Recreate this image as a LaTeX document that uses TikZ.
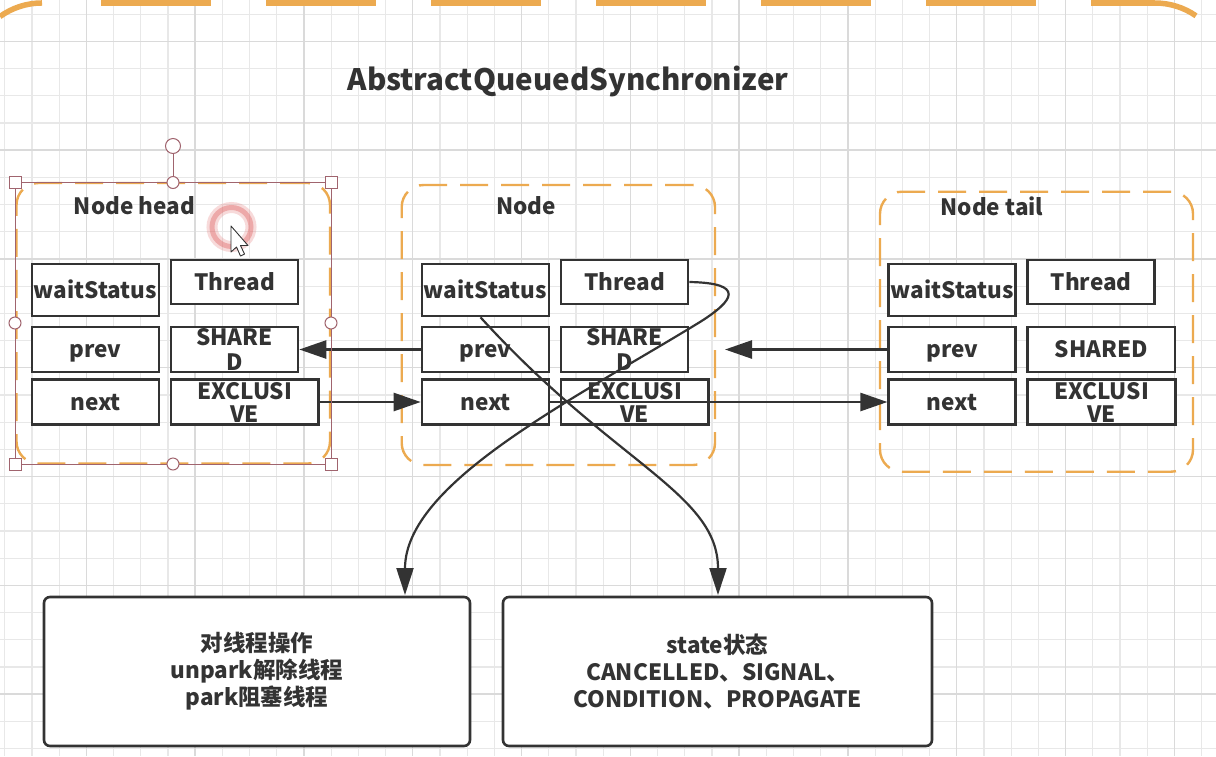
\documentclass[tikz,border=0pt]{standalone}
\usepackage{fontspec}
\setmainfont{Noto Sans CJK SC}
\usetikzlibrary{arrows.meta}
\definecolor{dk}{RGB}{51,51,51}
\definecolor{org}{RGB}{236,170,80}
\definecolor{gmin}{RGB}{232,232,232}
\definecolor{gmaj}{RGB}{218,218,218}
\definecolor{selc}{RGB}{160,100,110}
\definecolor{ringc}{RGB}{225,110,110}
\newcommand\fldfont{\fontsize{22.5}{24}\selectfont\bfseries}
\tikzset{
  fld/.style={draw=dk, line width=2.6pt, fill=white, inner sep=0pt, text=dk, font=\fldfont, align=center},
  one/.style={text height=20pt, text depth=4pt},
  cont/.style={draw=org, line width=2.4pt, dash pattern=on 28pt off 13pt, rounded corners=22pt, inner sep=0pt},
  lbl/.style={text=dk, font=\fldfont, inner sep=0pt},
  conn/.style={draw=dk, line width=2.6pt, -{Triangle[length=27pt,width=18pt]}},
  curv/.style={draw=dk, line width=2.2pt, -{Triangle[length=27pt,width=17pt]}},
  bigbox/.style={draw=dk, line width=2.6pt, fill=white, rounded corners=6pt, text=dk, align=center, font=\fontsize{22.5}{27}\selectfont\bfseries, inner sep=0pt},
  hnd/.style={draw=selc, line width=1pt, fill=white},
}
\newcommand\aqsgroup[3]{%
  \node[fld, one, minimum width=127pt, minimum height=52pt] (#2ws) at (95.5+#1,290) {waitStatus};
  \node[fld, one, minimum width=127pt, minimum height=44pt] (#2th) at (234.5+#1,282) {Thread};
  \node[fld, one, minimum width=127pt, minimum height=45pt] (#2pv) at (95.5+#1,349.5) {prev};
  \node[fld, one, minimum width=127pt, minimum height=45pt] (#2nx) at (95.5+#1,402) {next};
  #3
  \node[fld, minimum width=147.5pt, minimum height=45pt, font=\fontsize{22.5}{23}\selectfont\bfseries] (#2ex) at (244.75+#1,402) {EXCLUSI\\VE};
}
\begin{document}
\begin{tikzpicture}[x=1pt,y=-1pt]
\useasboundingbox (0,0) rectangle (1216,756);
\fill[white] (0,0) rectangle (1216,756);
% grid
\foreach \i in {0,...,44} { \draw[gmin, line width=1.2pt] (4.7+27.2*\i,0) -- (4.7+27.2*\i,756); }
\foreach \j in {0,...,27} { \draw[gmin, line width=1.2pt] (0,14.1+27.2*\j) -- (1216,14.1+27.2*\j); }
\foreach \i in {0,...,10} { \draw[gmaj, line width=1.4pt] (86.3+108.8*\i,0) -- (86.3+108.8*\i,756); }
\foreach \j in {0,...,6} { \draw[gmaj, line width=1.4pt] (0,41.3+108.8*\j) -- (1216,41.3+108.8*\j); }
% outer container (top edge only visible)
\draw[org, line width=5.5pt] (0,16.5) arc[start angle=234.3, end angle=270, radius=72];
\draw[org, line width=5.5pt, dash pattern=on 110pt off 55pt] (101,3) -- (1155,3);
\draw[org, line width=5.5pt] (1155,3) arc[start angle=270, end angle=304.7, radius=72];
% title
\node[text=dk, font=\fontsize{29.5}{31}\selectfont\bfseries, inner sep=0pt] (title) at (568,81) {AbstractQueuedSynchronizer};
% containers
\node[cont, minimum width=313.5pt, minimum height=280.5pt] (hbox) at (173.25,323.25) {};
\node[cont, minimum width=313.3pt, minimum height=280pt] (mbox) at (558.35,325) {};
\node[cont, minimum width=313pt, minimum height=280pt] (tbox) at (1036.5,331.7) {};
\node[lbl] (hlbl) at (134.5,206) {Node head};
\node[lbl] (mlbl) at (526,206) {Node};
\node[lbl] (tlbl) at (992,206) {Node tail};
% fields
\aqsgroup{0}{h}{\node[fld, minimum width=127pt, minimum height=45pt, font=\fontsize{22.5}{25}\selectfont\bfseries] (hsh) at (234.5,349.5) {SHARE\\D};}
\aqsgroup{390}{m}{\node[fld, minimum width=127pt, minimum height=45pt, font=\fontsize{22.5}{25}\selectfont\bfseries] (msh) at (624.5,349.5) {SHARE\\D};}
\aqsgroup{856.7}{t}{\node[fld, one, minimum width=147.7pt, minimum height=45pt] (tsh) at (1101.2,349.5) {SHARED};}
% bottom boxes
\node[bigbox, minimum width=426pt, minimum height=149pt] (opbox) at (257,671.5) {对线程操作\\unpark解除线程\\park阻塞线程};
\node[bigbox, minimum width=429pt, minimum height=149pt] (stbox) at (717.5,671.5) {state状态\\CANCELLED、SIGNAL、\\CONDITION、PROPAGATE};
% connectors
\coordinate (a3e) at (725,349.5);
\coordinate (ta) at (405,595);
\coordinate (tb) at (718,595);
\draw[conn] (mpv.west) -- (hsh.east);
\draw[conn] (hex.east) -- (mnx.west);
\draw[conn] (tpv.west) -- (a3e);
\draw[conn] (mnx.east) -- (tnx.west);
\draw[curv] (mth.east) .. controls (745,283) and (735,300) .. (700,322) .. controls (572.5,400) and (405,483) .. (ta);
\draw[curv] ([xshift=-5pt]mws.south) .. controls (614,464) and (718,493) .. (tb);
% selection overlay
\draw[selc, line width=0.9pt] (15,182.5) rectangle (331,464);
\draw[selc, line width=1pt] (173,153) -- (173,177);
\draw[hnd] (173,146) circle[radius=7.5];
\foreach \p in {(173,182.5),(15,323),(331,323),(173,464)} { \draw[hnd] \p circle[radius=6]; }
\foreach \p in {(15,182.5),(331,182.5),(15,464),(331,464)} { \draw[hnd] \p ++(-6,-6) rectangle ++(12,12); }
% cursor highlight
\draw[ringc, line width=11pt, opacity=0.25] (231.5,227) circle[radius=19.5];
\draw[ringc, line width=5pt, opacity=0.45] (231.5,227) circle[radius=19.5];
\draw[fill=white, draw=dk, line width=0.9pt, line join=round] (231,226) -- (231,252) -- (236.5,247) -- (240.5,256) -- (244.5,254) -- (240.5,245.5) -- (248,245.5) -- cycle;
\end{tikzpicture}
\end{document}
